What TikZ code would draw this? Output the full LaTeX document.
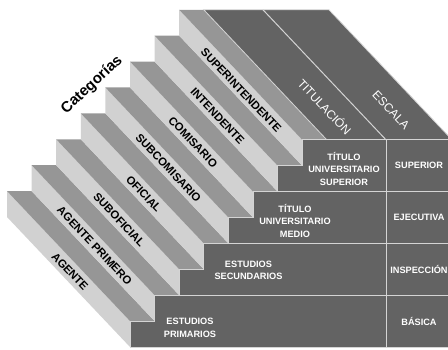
\documentclass[tikz,border=0pt]{standalone}
\usepackage{fontspec}
\setmainfont{Liberation Sans}
\usepackage{tikz}
\definecolor{riserclr}{HTML}{D1D1D1}
\definecolor{treadclr}{HTML}{969696}
\definecolor{frontclr}{HTML}{636363}
\definecolor{edgeclr}{HTML}{D4D4D4}
\tikzstyle{riser} = [fill=riserclr]
\tikzstyle{tread} = [fill=treadclr]
\tikzstyle{front} = [fill=frontclr, draw=edgeclr, line width=0.8pt]
\tikzstyle{line} = [draw=edgeclr, line width=1pt]
\tikzstyle{cat} = [font=\fontsize{11.3}{12}\selectfont\bfseries, rotate=-46.6, inner sep=0pt]
\tikzstyle{cell} = [font=\fontsize{9.2}{12.5}\selectfont\bfseries, text=white, align=center, inner sep=0pt]
\tikzstyle{head} = [font=\fontsize{12}{14}\selectfont, text=white, rotate=-46.6, inner sep=0pt]

\begin{document}
\begin{tikzpicture}[x=1pt, y=1pt]
	\useasboundingbox (0,0) rectangle (448,349);

	% risers (light) and treads (medium), from front edge back up-left
	\path [riser] (130,2) -- ++(0,25.9) -- ++(-123,130) -- ++(0,-25.9) -- cycle;
	\path [tread] (130,27.9) -- ++(24.6,0) -- ++(-123,130) -- ++(-24.6,0) -- cycle;
	\path [riser] (154.6,27.9) -- ++(0,25.9) -- ++(-123,130) -- ++(0,-25.9) -- cycle;
	\path [tread] (154.6,53.8) -- ++(24.6,0) -- ++(-123,130) -- ++(-24.6,0) -- cycle;
	\path [riser] (179.2,53.8) -- ++(0,25.9) -- ++(-123,130) -- ++(0,-25.9) -- cycle;
	\path [tread] (179.2,79.7) -- ++(24.6,0) -- ++(-123,130) -- ++(-24.6,0) -- cycle;
	\path [riser] (203.8,79.7) -- ++(0,25.9) -- ++(-123,130) -- ++(0,-25.9) -- cycle;
	\path [tread] (203.8,105.6) -- ++(24.6,0) -- ++(-123,130) -- ++(-24.6,0) -- cycle;
	\path [riser] (228.4,105.6) -- ++(0,25.9) -- ++(-123,130) -- ++(0,-25.9) -- cycle;
	\path [tread] (228.4,131.5) -- ++(24.6,0) -- ++(-123,130) -- ++(-24.6,0) -- cycle;
	\path [riser] (253,131.5) -- ++(0,25.9) -- ++(-123,130) -- ++(0,-25.9) -- cycle;
	\path [tread] (253,157.4) -- ++(24.6,0) -- ++(-123,130) -- ++(-24.6,0) -- cycle;
	\path [riser] (277.6,157.4) -- ++(0,25.9) -- ++(-123,130) -- ++(0,-25.9) -- cycle;
	\path [tread] (277.6,183.3) -- ++(24.6,0) -- ++(-123,130) -- ++(-24.6,0) -- cycle;
	\path [riser] (302.2,183.3) -- ++(0,25.9) -- ++(-123,130) -- ++(0,-25.9) -- cycle;
	\path [tread] (302.2,209.2) -- ++(24.6,0) -- ++(-123,130) -- ++(-24.6,0) -- cycle;

	% top face and front face
	\path [front] (326.8,209.2) -- (452,209.2) -- (329,339.2) -- (203.8,339.2) -- cycle;
	\path [front] (130,2) -- (130,27.9) -- (154.6,27.9) -- (154.6,53.8) -- (179.2,53.8)
		-- (179.2,79.7) -- (203.8,79.7) -- (203.8,105.6) -- (228.4,105.6) -- (228.4,131.5)
		-- (253,131.5) -- (253,157.4) -- (277.6,157.4) -- (277.6,183.3) -- (302.2,183.3)
		-- (302.2,209.2) -- (452,209.2) -- (452,2) -- cycle;

	\path [line] (386,2) -- (386,209.2);
	\path [line] (386,209.2) -- (263,339.2);
	\path [line] (179.2,53.8) -- (452,53.8);
	\path [line] (228.4,105.6) -- (452,105.6);
	\path [line] (277.6,157.4) -- (452,157.4);

	\node [cat] (agente) at (70,77.4) {AGENTE};
	\node [cat] (primero) at (94.6,103.3) {AGENTE PRIMERO};
	\node [cat] (suboficial) at (119.2,129.2) {SUBOFICIAL};
	\node [cat] (oficial) at (143.8,155.1) {OFICIAL};
	\node [cat] (subcomisario) at (168.4,181) {SUBCOMISARIO};
	\node [cat] (comisario) at (193,206.9) {COMISARIO};
	\node [cat] (intendente) at (217.6,232.8) {INTENDENTE};
	\node [cat] (superintendente) at (241.2,258.7) {SUPERINTENDENTE};

	\node [font=\fontsize{15}{17}\selectfont\bfseries, rotate=43] (categorias) at (92,264) {Categorías};
	\node [head] (titulacion) at (325,242.4) {TITULACIÓN};
	\node [head] (escala) at (391,238.8) {ESCALA};

	\node [cell] (primarios) at (190,21) {ESTUDIOS\\PRIMARIOS};
	\node [cell] (secundarios) at (248.5,78.5) {ESTUDIOS\\SECUNDARIOS};
	\node [cell] (medio) at (295,128.5) {TÍTULO\\UNIVERSITARIO\\MEDIO};
	\node [cell] (tsuperior) at (344,180.5) {TÍTULO\\UNIVERSITARIO\\SUPERIOR};
	\node [cell] (basica) at (419,27.3) {BÁSICA};
	\node [cell] (inspeccion) at (419,79.7) {INSPECCIÓN};
	\node [cell] (ejecutiva) at (419,131.5) {EJECUTIVA};
	\node [cell] (superior) at (419,183.3) {SUPERIOR};
\end{tikzpicture}
\end{document}
